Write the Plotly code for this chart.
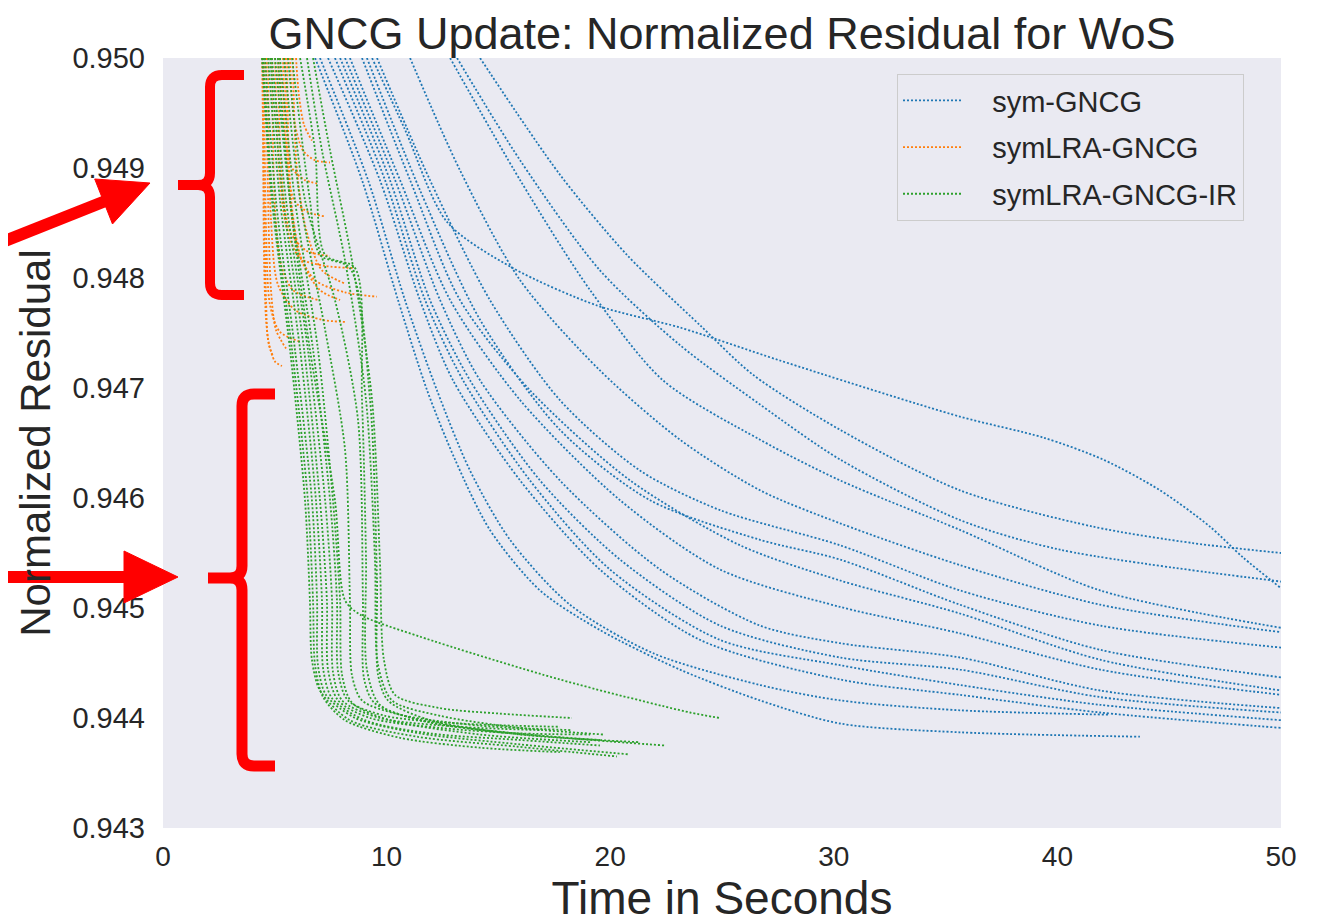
import plotly.graph_objects as go

# ---------------- data (time in seconds, normalized residual) ----------------
sym_t = [
    [9.35, 10.82, 12.70, 15.65, 19.41, 23.12, 27.59, 35.64, 39.36, 42.04, 44.59, 46.82, 48.30, 50.0],
    [14.18, 17.75, 20.75, 24.02, 26.39, 30.28, 35.64, 41.59, 46.06, 50.0],
    [13.15, 15.97, 19.54, 23.12, 26.70, 30.28, 35.64, 40.12, 50.0],
    [12.84, 15.97, 19.10, 22.36, 26.70, 30.28, 35.64, 41.91, 50.0],
    [11.05, 13.28, 15.97, 19.54, 23.12, 26.70, 30.28, 35.64, 41.91, 50.0],
    [9.57, 11.94, 14.62, 17.75, 21.33, 24.91, 30.28, 35.64, 41.91, 50.0],
    [9.12, 11.49, 14.18, 17.75, 21.78, 26.70, 30.28, 35.64, 41.91, 50.0],
    [8.90, 11.05, 13.28, 16.41, 20.89, 25.81, 30.28, 35.64, 41.91, 50.0],
    [8.36, 10.60, 12.84, 15.97, 20.44, 24.91, 30.28, 35.64, 41.91, 50.0],
    [8.14, 10.38, 12.39, 14.18, 17.75, 22.23, 26.70, 30.28, 35.64, 41.91, 50.0],
    [7.92, 10.15, 11.94, 13.73, 16.86, 20.44, 24.91, 30.28, 35.64, 41.91, 50.0],
    [7.69, 9.93, 11.72, 13.42, 16.41, 19.99, 24.91, 30.28, 35.64, 41.91, 50.0],
    [7.38, 9.70, 11.49, 12.97, 15.97, 19.54, 24.02, 30.28, 35.64, 41.91, 50.0],
    [7.02, 9.17, 10.82, 12.25, 13.73, 15.52, 18.20, 21.91, 26.70, 30.28, 35.64, 42.35],
    [6.80, 8.90, 10.51, 11.81, 13.06, 14.62, 16.86, 19.54, 23.12, 26.70, 30.28, 35.64, 43.69],
]
sym_r = [
    [0.95000, 0.94935, 0.94851, 0.94809, 0.94775, 0.94755, 0.94725, 0.94674, 0.94655, 0.94635, 0.94607, 0.94574, 0.94546, 0.94518],
    [0.95000, 0.94894, 0.94821, 0.94757, 0.94712, 0.94662, 0.94607, 0.94574, 0.94559, 0.94550],
    [0.95000, 0.94907, 0.94807, 0.94739, 0.94685, 0.94635, 0.94580, 0.94553, 0.94524],
    [0.95000, 0.94889, 0.94789, 0.94707, 0.94653, 0.94616, 0.94571, 0.94516, 0.94482],
    [0.95000, 0.94898, 0.94798, 0.94716, 0.94653, 0.94607, 0.94577, 0.94539, 0.94503, 0.94478],
    [0.95000, 0.94889, 0.94780, 0.94689, 0.94625, 0.94589, 0.94557, 0.94516, 0.94484, 0.94464],
    [0.95000, 0.94880, 0.94762, 0.94662, 0.94598, 0.94562, 0.94544, 0.94503, 0.94462, 0.94437],
    [0.95000, 0.94889, 0.94780, 0.94698, 0.94616, 0.94557, 0.94525, 0.94495, 0.94453, 0.94425],
    [0.95000, 0.94889, 0.94780, 0.94689, 0.94598, 0.94535, 0.94501, 0.94477, 0.94444, 0.94421],
    [0.95000, 0.94889, 0.94780, 0.94707, 0.94616, 0.94535, 0.94484, 0.94468, 0.94455, 0.94425, 0.94409],
    [0.95000, 0.94889, 0.94780, 0.94707, 0.94616, 0.94544, 0.94484, 0.94455, 0.94444, 0.94419, 0.94405],
    [0.95000, 0.94889, 0.94780, 0.94707, 0.94616, 0.94535, 0.94471, 0.94448, 0.94430, 0.94412, 0.94398],
    [0.95000, 0.94889, 0.94780, 0.94707, 0.94616, 0.94535, 0.94471, 0.94435, 0.94421, 0.94405, 0.94391],
    [0.95000, 0.94889, 0.94780, 0.94698, 0.94625, 0.94562, 0.94503, 0.94459, 0.94430, 0.94416, 0.94407, 0.94403],
    [0.95000, 0.94889, 0.94780, 0.94698, 0.94635, 0.94571, 0.94516, 0.94480, 0.94444, 0.94416, 0.94395, 0.94387, 0.94383],
]

lra_t = [
    [4.43, 4.52, 4.61, 4.70, 5.01, 5.32],
    [4.61, 4.70, 4.83, 5.05, 5.50],
    [5.68, 5.86, 6.26, 6.80, 7.47],
    [5.23, 5.41, 5.77, 6.35, 6.89],
    [5.01, 5.19, 5.55, 6.13, 7.25, 8.59],
    [5.46, 5.64, 6.04, 6.80, 8.14, 9.57],
    [4.70, 4.83, 5.14, 5.90, 7.11, 8.23],
    [4.87, 5.01, 5.28, 5.81, 6.93],
    [5.14, 5.32, 5.68, 6.40, 7.47],
    [4.52, 4.61, 4.79, 5.23, 6.13],
    [5.81, 5.99, 6.40, 7.11, 8.14],
    [5.95, 6.08, 6.31, 6.66],
    [5.37, 5.50, 5.86, 6.48, 7.25],
    [4.47, 4.52, 4.61, 4.74, 4.92],
    [5.55, 5.73, 6.22, 7.02, 7.92],
]
lra_r = [
    [0.95000, 0.94871, 0.94780, 0.94744, 0.94724, 0.94720],
    [0.95000, 0.94871, 0.94789, 0.94753, 0.94736],
    [0.95000, 0.94944, 0.94916, 0.94907, 0.94905],
    [0.95000, 0.94935, 0.94900, 0.94889, 0.94886],
    [0.95000, 0.94898, 0.94844, 0.94818, 0.94811, 0.94809],
    [0.95000, 0.94880, 0.94825, 0.94798, 0.94787, 0.94783],
    [0.95000, 0.94853, 0.94794, 0.94771, 0.94762, 0.94760],
    [0.95000, 0.94862, 0.94812, 0.94789, 0.94780],
    [0.95000, 0.94889, 0.94842, 0.94825, 0.94820],
    [0.95000, 0.94844, 0.94775, 0.94751, 0.94742],
    [0.95000, 0.94898, 0.94844, 0.94807, 0.94795],
    [0.95000, 0.94966, 0.94939, 0.94925],
    [0.95000, 0.94916, 0.94871, 0.94860, 0.94856],
    [0.95000, 0.94816, 0.94762, 0.94739, 0.94729],
    [0.95000, 0.94871, 0.94815, 0.94789, 0.94780],
]

ir_t = [
    [6.71, 7.47, 8.45, 9.35, 9.70, 9.88, 10.38, 12.39, 15.07, 18.29],
    [6.44, 7.11, 8.14, 9.08, 9.48, 9.62, 10.24, 12.39, 15.97, 19.68],
    [6.13, 6.80, 7.25, 8.59, 8.90, 9.08, 9.12, 9.70, 11.94, 16.86, 22.45],
    [5.14, 5.68, 6.57, 7.69, 8.14, 8.81, 11.49, 17.75, 23.57, 24.91],
    [4.43, 4.87, 5.68, 6.35, 6.57, 6.66, 7.02, 8.36, 11.36, 15.83, 20.30],
    [4.56, 5.05, 5.90, 6.66, 6.89, 6.93, 7.29, 8.59, 11.49, 15.97, 20.80],
    [4.70, 5.23, 6.13, 6.84, 7.11, 7.16, 7.56, 9.03, 11.94, 15.97, 19.54],
    [4.79, 5.37, 6.31, 7.02, 7.33, 7.38, 7.83, 9.26, 12.39, 15.97, 19.10],
    [4.87, 5.50, 6.48, 7.25, 7.56, 7.60, 8.01, 9.70, 13.28, 16.86],
    [5.01, 5.68, 6.71, 7.47, 7.78, 7.83, 8.27, 9.93, 13.28, 17.75],
    [5.23, 5.90, 6.93, 7.60, 7.92, 8.01, 8.45, 10.15, 14.18, 19.10],
    [5.41, 6.13, 7.25, 8.14, 8.36, 8.45, 8.90, 10.60, 14.18, 18.29],
    [5.59, 6.35, 7.69, 8.72, 8.94, 8.99, 9.44, 11.49, 15.07, 19.54],
    [5.77, 6.57, 7.02, 8.36, 9.26, 9.57, 9.62, 10.06, 11.94, 15.97, 21.33],
    [4.47, 4.92, 5.77, 6.48, 6.71, 6.80, 7.16, 8.14, 10.60, 14.18, 17.75],
]
ir_r = [
    [0.95000, 0.94916, 0.94816, 0.94689, 0.94544, 0.94453, 0.94421, 0.94409, 0.94404, 0.94400],
    [0.95000, 0.94916, 0.94816, 0.94689, 0.94544, 0.94448, 0.94416, 0.94402, 0.94391, 0.94385],
    [0.95000, 0.94916, 0.94821, 0.94809, 0.94689, 0.94544, 0.94444, 0.94412, 0.94396, 0.94384, 0.94375],
    [0.95000, 0.94871, 0.94735, 0.94598, 0.94507, 0.94494, 0.94474, 0.94435, 0.94405, 0.94400],
    [0.95000, 0.94871, 0.94735, 0.94598, 0.94507, 0.94453, 0.94425, 0.94398, 0.94383, 0.94374, 0.94365],
    [0.95000, 0.94871, 0.94735, 0.94598, 0.94507, 0.94448, 0.94421, 0.94400, 0.94386, 0.94376, 0.94367],
    [0.95000, 0.94871, 0.94735, 0.94598, 0.94507, 0.94445, 0.94418, 0.94398, 0.94386, 0.94380, 0.94375],
    [0.95000, 0.94871, 0.94735, 0.94598, 0.94507, 0.94444, 0.94416, 0.94400, 0.94391, 0.94386, 0.94385],
    [0.95000, 0.94871, 0.94735, 0.94598, 0.94507, 0.94442, 0.94416, 0.94400, 0.94392, 0.94389],
    [0.95000, 0.94871, 0.94735, 0.94598, 0.94507, 0.94442, 0.94416, 0.94402, 0.94395, 0.94392],
    [0.95000, 0.94871, 0.94735, 0.94598, 0.94507, 0.94439, 0.94414, 0.94398, 0.94385, 0.94378],
    [0.95000, 0.94871, 0.94753, 0.94644, 0.94507, 0.94439, 0.94416, 0.94403, 0.94393, 0.94389],
    [0.95000, 0.94871, 0.94780, 0.94671, 0.94507, 0.94436, 0.94414, 0.94398, 0.94387, 0.94380],
    [0.95000, 0.94871, 0.94821, 0.94809, 0.94689, 0.94525, 0.94439, 0.94416, 0.94398, 0.94385, 0.94378],
    [0.95000, 0.94871, 0.94735, 0.94598, 0.94507, 0.94448, 0.94419, 0.94398, 0.94382, 0.94373, 0.94369],
]

series_names = ["sym-GNCG", "symLRA-GNCG", "symLRA-GNCG-IR"]
series_colors = ["#1f77b4", "#ff7f0e", "#2ca02c"]
x_ticks = [0, 10, 20, 30, 40, 50]
y_ticks = [0.943, 0.944, 0.945, 0.946, 0.947, 0.948, 0.949, 0.950]

# ---------------- figure ----------------
fig = go.Figure()
FONT = "Liberation Sans, Arial, sans-serif"
TXT = "#262626"
PAD = "\u00a0\u00a0\u00a0"

for name, color, ts, rs in zip(series_names, series_colors,
                               [sym_t, lra_t, ir_t], [sym_r, lra_r, ir_r]):
    for k, (t, r) in enumerate(zip(ts, rs)):
        fig.add_trace(go.Scatter(
            x=t, y=r, mode="lines", name=PAD + name, legendgroup=name,
            showlegend=(k == 0),
            line=dict(color=color, width=1.8, dash="2px,2px",
                      shape="spline", smoothing=0.8),
            hoverinfo="skip",
        ))

# page offset of the figure (default body margin of the html page)
OFF = 8
# plot area as it should appear on the page
L, R, T, B = 163, 1281, 58, 828
W, H = 1321, 924

def px(x):
    return (x - L) / (R - L)
def py(y):
    return (B - y) / (B - T)
def pt(x, y):
    return f"{px(x):.5f},{py(y):.5f}"

RED = "#FF0000"
shapes = []
# arrows (shaft + head)
shapes.append(dict(type="line", xref="paper", yref="paper",
                   x0=px(-10), y0=py(247), x1=px(108), y1=py(200),
                   line=dict(color=RED, width=12), layer="above"))
shapes.append(dict(type="path", xref="paper", yref="paper",
                   path=f"M {pt(112.5, 224)} L {pt(150, 183)} L {pt(94.7, 179)} Z",
                   fillcolor=RED, line=dict(color=RED, width=1), layer="above"))
shapes.append(dict(type="line", xref="paper", yref="paper",
                   x0=px(-10), y0=py(577), x1=px(130), y1=py(577),
                   line=dict(color=RED, width=12), layer="above"))
shapes.append(dict(type="path", xref="paper", yref="paper",
                   path=f"M {pt(124, 551)} L {pt(178, 577)} L {pt(124, 603)} Z",
                   fillcolor=RED, line=dict(color=RED, width=1), layer="above"))

def brace(xv, top, bot, mid, xend, xnub, r=12):
    return (f"M {pt(xend, top)} L {pt(xv + r, top)} Q {pt(xv, top)} {pt(xv, top + r)} "
            f"L {pt(xv, mid - r)} Q {pt(xv, mid)} {pt(xv - r, mid)} L {pt(xnub, mid)} "
            f"M {pt(xv - r, mid)} Q {pt(xv, mid)} {pt(xv, mid + r)} "
            f"L {pt(xv, bot - r)} Q {pt(xv, bot)} {pt(xv + r, bot)} L {pt(xend, bot)}")

shapes.append(dict(type="path", xref="paper", yref="paper",
                   path=brace(210, 75, 295, 185, 244, 178),
                   line=dict(color=RED, width=10), layer="above"))
shapes.append(dict(type="path", xref="paper", yref="paper",
                   path=brace(242, 394, 766, 578, 275, 208),
                   line=dict(color=RED, width=11), layer="above"))

fig.update_layout(
    width=W, height=H,
    margin=dict(l=L - OFF, r=W - (R - OFF), t=T - OFF, b=H - (B - OFF), autoexpand=False),
    paper_bgcolor="white", plot_bgcolor="#EAEAF2",
    font=dict(family=FONT, color=TXT),
    title=dict(text="GNCG Update: Normalized Residual for WoS",
               x=0.5, xref="paper", xanchor="center",
               y=1 - (33 - OFF) / H, yref="container", yanchor="middle",
               font=dict(size=45, color=TXT, family=FONT)),
    xaxis=dict(range=[0, 50], tickvals=x_ticks, ticktext=[str(v) for v in x_ticks],
               showgrid=False, zeroline=False, showline=False, ticks="",
               ticklabelstandoff=9, tickfont=dict(size=28, color=TXT),
               title=dict(text="Time in Seconds", font=dict(size=46, color=TXT), standoff=0)),
    yaxis=dict(range=[0.943, 0.950], tickvals=y_ticks,
               ticktext=[f"{v:.3f}" for v in y_ticks],
               showgrid=False, zeroline=False, showline=False, ticks="",
               ticklabelstandoff=17, tickfont=dict(size=29, color=TXT),
               title=dict(text="Normalized Residual", font=dict(size=42, color=TXT), standoff=8)),
    legend=dict(x=px(897), y=py(74), xanchor="left", yanchor="top",
                bgcolor="rgba(234,234,242,0.85)", bordercolor="#CCCCCC", borderwidth=1,
                font=dict(size=29, color=TXT, family=FONT),
                traceorder="grouped", tracegroupgap=6, itemwidth=60),
    shapes=shapes,
    showlegend=True,
)

fig.write_html("out.html")
